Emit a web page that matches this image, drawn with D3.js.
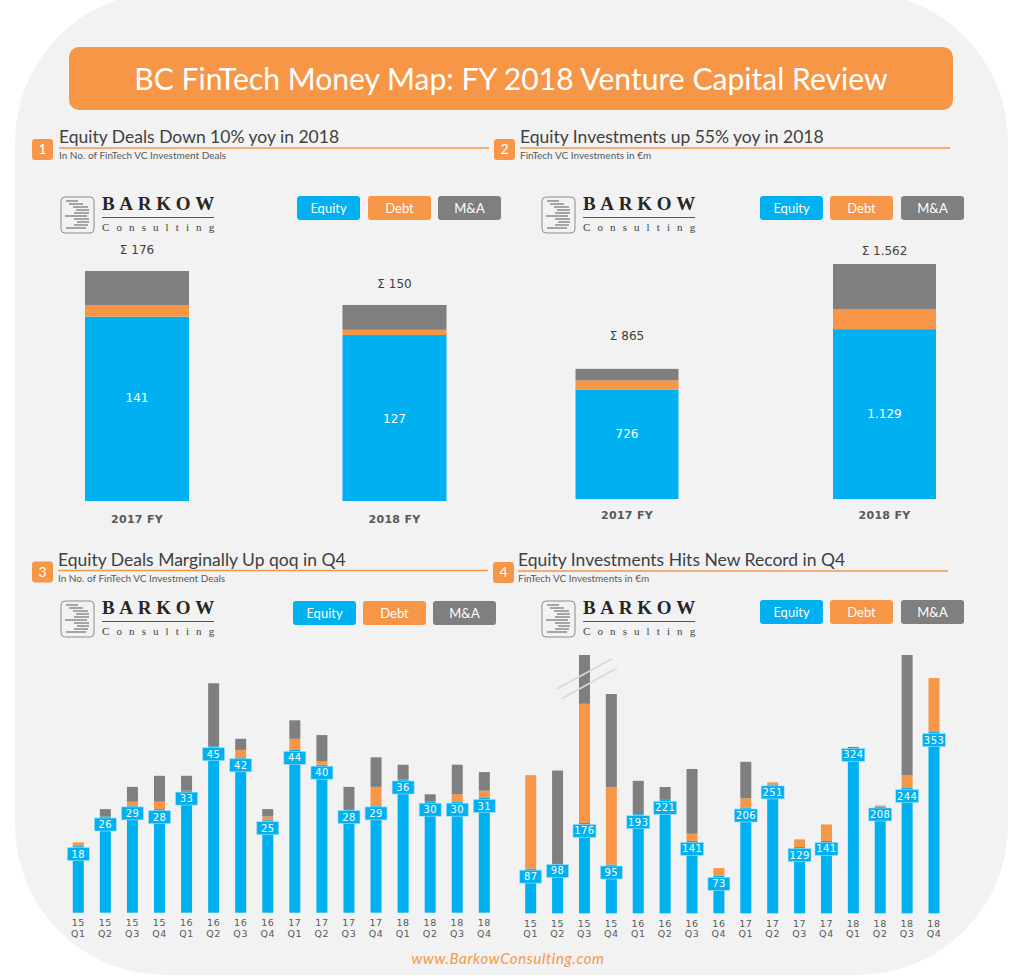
<!DOCTYPE html>
<html>
<head>
<meta charset="utf-8">
<script src="https://cdn.jsdelivr.net/npm/d3@7"></script>
<style>
  body { margin: 0; background: #fff; }
  svg { display: block; }
</style>
</head>
<body>
<svg width="1024" height="980"></svg>
<script>
// yearly charts
const years = ["2017 FY", "2018 FY"];
const dealsEquity = [141, 127];
const dealsDebt = [9, 4];
const dealsMA = [26, 19];
const investEquity = [726, 1129];
const investDebt = [62, 133];
const investMA = [77, 300];

// quarterly charts
const quarters = ["15 Q1", "15 Q2", "15 Q3", "15 Q4", "16 Q1", "16 Q2", "16 Q3", "16 Q4",
                  "17 Q1", "17 Q2", "17 Q3", "17 Q4", "18 Q1", "18 Q2", "18 Q3", "18 Q4"];
const qDealsEquity = [18, 26, 29, 28, 33, 45, 42, 25, 44, 40, 28, 29, 36, 30, 30, 31];
const qDealsDebt = [1, 0, 1, 2, 0, 0, 2, 1, 3, 1, 0, 5, 0, 0, 2, 2];
const qDealsMA = [0, 2, 4, 7, 4, 17, 3, 2, 5, 7, 6, 8, 4, 2, 8, 5];
const qInvestEquity = [87, 98, 176, 95, 193, 221, 141, 73, 206, 251, 129, 141, 324, 208, 244, 353];
const qInvestDebt = [182, 0, 232, 151, 0, 0, 14, 15, 18, 4, 15, 32, 0, 2, 25, 105];
const qInvestMA = [0, 180, 95, 181, 65, 25, 126, 0, 71, 0, 0, 0, 0, 0, 234, 0];

const seriesNames = ["Equity", "Debt", "M&A"];
const colors = { "Equity": "#00b0f0", "Debt": "#f79646", "M&A": "#7f7f7f" };
const mainFont = "Lato, Carlito, sans-serif";
const wideFont = "'DejaVu Sans', Verdana, sans-serif";
const euro = d3.formatLocale({ decimal: ",", thousands: ".", grouping: [3], currency: ["", "€"] }).format(",d");

let svg = d3.select("svg");

// grey card behind everything
svg.append("rect")
    .attr("x", 15).attr("y", -8)
    .attr("width", 993).attr("height", 983)
    .attr("rx", 150).attr("ry", 150)
    .attr("fill", "#f2f2f2");

// title bar
svg.append("rect")
    .attr("x", 69).attr("y", 47)
    .attr("width", 884).attr("height", 63)
    .attr("rx", 10)
    .attr("fill", colors["Debt"]);
svg.append("text")
    .attr("x", 511).attr("y", 90)
    .attr("text-anchor", "middle")
    .attr("font-family", mainFont)
    .attr("font-size", "30.1px")
    .attr("fill", "white")
    .text("BC FinTech Money Map: FY 2018 Venture Capital Review");

function sectionHeader(o) {
    let g = svg.append("g");
    g.append("rect")
        .attr("x", o.badgeX).attr("y", o.y - 9)
        .attr("width", 21).attr("height", 21)
        .attr("rx", 3)
        .attr("fill", colors["Debt"]);
    g.append("text")
        .attr("x", o.badgeX + 10.5).attr("y", o.y + 6)
        .attr("text-anchor", "middle")
        .attr("font-family", mainFont)
        .attr("font-size", "14px")
        .attr("fill", "white")
        .text(o.num);
    g.append("text")
        .attr("x", o.x).attr("y", o.y - 5)
        .attr("font-family", mainFont)
        .attr("font-size", "17.5px")
        .attr("fill", "#404040")
        .text(o.title);
    g.append("line")
        .attr("x1", o.x).attr("x2", o.x + 430)
        .attr("y1", o.y).attr("y2", o.y)
        .attr("stroke", colors["Debt"])
        .attr("stroke-width", 1.3);
    g.append("text")
        .attr("x", o.x).attr("y", o.y + 11)
        .attr("font-family", mainFont)
        .attr("font-size", "10px")
        .attr("fill", "#595959")
        .text(o.sub);
}

sectionHeader({ num: "1", badgeX: 32, x: 59, y: 148, title: "Equity Deals Down 10% yoy in 2018", sub: "In No. of FinTech VC Investment Deals" });
sectionHeader({ num: "2", badgeX: 494, x: 520, y: 148, title: "Equity Investments up 55% yoy in 2018", sub: "FinTech VC Investments in €m" });
sectionHeader({ num: "3", badgeX: 32, x: 58, y: 570.5, title: "Equity Deals Marginally Up qoq in Q4", sub: "In No. of FinTech VC Investment Deals" });
sectionHeader({ num: "4", badgeX: 493, x: 518, y: 571, title: "Equity Investments Hits New Record in Q4", sub: "FinTech VC Investments in €m" });

function logo(x, y) {
    let g = svg.append("g").attr("transform", `translate(${x}, ${y})`);
    g.append("rect")
        .attr("x", 1).attr("y", 1)
        .attr("width", 33).attr("height", 36)
        .attr("rx", 4)
        .attr("fill", "#f2f2f2")
        .attr("stroke", "#8c8c8c")
        .attr("stroke-width", 1);
    // stripes of the little "3" mark
    const stripes = [[6, 18, 5], [9, 23, 8], [13, 28, 11], [16, 29, 14], [14, 29, 17],
                     [5, 27, 20], [14, 29, 23], [17, 29, 26], [14, 28, 29], [6, 26, 32]];
    g.selectAll(".stripe")
        .data(stripes)
        .enter()
        .append("line")
        .attr("x1", d => d[0]).attr("x2", d => d[1])
        .attr("y1", d => d[2]).attr("y2", d => d[2])
        .attr("stroke", "#666")
        .attr("stroke-width", 1.1);
    g.append("text")
        .attr("x", 42).attr("y", 14)
        .attr("font-family", "'Liberation Serif', serif")
        .attr("font-weight", "bold")
        .attr("font-size", "19px")
        .attr("letter-spacing", "4.7px")
        .attr("fill", "#262626")
        .text("BARKOW");
    g.append("line")
        .attr("x1", 42).attr("x2", 154)
        .attr("y1", 21.5).attr("y2", 21.5)
        .attr("stroke", "#555")
        .attr("stroke-width", 1);
    g.append("text")
        .attr("x", 42).attr("y", 35)
        .attr("font-family", "'Liberation Serif', serif")
        .attr("font-size", "11px")
        .attr("letter-spacing", "7.1px")
        .attr("fill", "#404040")
        .text("Consulting");
}

function legend(xs, y) {
    let g = svg.append("g");
    let items = g.selectAll(".item")
        .data(seriesNames)
        .enter()
        .append("g")
        .attr("transform", (d, i) => `translate(${xs[i]}, ${y})`);
    items.append("rect")
        .attr("width", 63).attr("height", 24)
        .attr("rx", 3)
        .attr("fill", d => colors[d]);
    items.append("text")
        .attr("x", 31.5).attr("y", 17)
        .attr("text-anchor", "middle")
        .attr("font-family", mainFont)
        .attr("font-size", "13px")
        .attr("fill", "white")
        .text(d => d);
}

logo(60, 196);  legend([297, 368, 438], 196);
logo(541, 196); legend([760, 830, 901], 196);
logo(60, 600);  legend([293, 363, 433], 601);
logo(541, 600); legend([760, 830, 901], 600);

function makeRows(cats, equity, debt, ma) {
    return cats.map((c, i) => ({ cat: c, "Equity": equity[i], "Debt": debt[i], "M&A": ma[i] }));
}

// stacked bars, shared by all four charts
function stackedChart(rows, o) {
    let g = svg.append("g");
    let xScale = d3.scaleBand()
        .domain(rows.map(d => d.cat))
        .range(o.xRange)
        .paddingInner(o.padding)
        .paddingOuter(o.padding / 2);
    let yScale = d3.scaleLinear()
        .domain([0, o.yMax])
        .range(o.yRange);

    let stack = d3.stack().keys(seriesNames)(rows);

    g.selectAll(".layer")
        .data(stack)
        .enter()
        .append("g")
        .attr("fill", d => colors[d.key])
        .selectAll("rect")
        .data(d => d)
        .enter()
        .append("rect")
        .attr("x", d => xScale(d.data.cat))
        .attr("y", d => yScale(d[1]))
        .attr("width", xScale.bandwidth())
        .attr("height", d => yScale(d[0]) - yScale(d[1]));

    let axis = g.append("g")
        .attr("transform", `translate(0, ${o.yRange[0]})`)
        .call(d3.axisBottom(xScale).tickSize(0).tickPadding(o.tickPad));
    axis.select(".domain").remove();
    axis.selectAll("text")
        .attr("font-family", wideFont)
        .attr("font-size", o.tickSize)
        .attr("font-weight", o.tickWeight)
        .attr("letter-spacing", o.tickSpacing)
        .attr("fill", "#595959");

    return { g, xScale, yScale };
}

function yearChart(rows, o, fmt) {
    let c = stackedChart(rows, o);
    c.g.selectAll(".inner")
        .data(rows)
        .enter()
        .append("text")
        .attr("x", d => c.xScale(d.cat) + c.xScale.bandwidth() / 2)
        .attr("y", (d, i) => c.yScale(d["Equity"] / 2) + 4 + o.innerShift[i])
        .attr("text-anchor", "middle")
        .attr("font-family", wideFont)
        .attr("font-size", "12px")
        .attr("fill", "white")
        .text(d => fmt(d["Equity"]));
    c.g.selectAll(".sum")
        .data(rows)
        .enter()
        .append("text")
        .attr("x", d => c.xScale(d.cat) + c.xScale.bandwidth() / 2)
        .attr("y", (d, i) => c.yScale(d["Equity"] + d["Debt"] + d["M&A"]) - o.sumGap[i])
        .attr("text-anchor", "middle")
        .attr("font-family", wideFont)
        .attr("font-size", "12px")
        .attr("fill", "#404040")
        .text(d => "Σ " + fmt(d["Equity"] + d["Debt"] + d["M&A"]));
}

function quarterChart(rows, o) {
    let c = stackedChart(rows, o);

    // two line tick labels: year over quarter
    c.g.selectAll(".tick text").each(function(d) {
        let parts = d.split(" ");
        let t = d3.select(this).text(null);
        t.append("tspan").attr("x", 0).text(parts[0]);
        t.append("tspan").attr("x", 0).attr("dy", "1.1em").text(parts[1]);
    });

    let labels = c.g.selectAll(".lab")
        .data(rows)
        .enter()
        .append("g")
        .attr("transform", d => `translate(${c.xScale(d.cat) + c.xScale.bandwidth() / 2}, ${c.yScale(d["Equity"]) + 8})`);
    labels.append("rect")
        .attr("x", d => d["Equity"] > 99 ? -11.5 : -11)
        .attr("y", -6.5)
        .attr("width", d => d["Equity"] > 99 ? 23 : 22)
        .attr("height", 13)
        .attr("fill", colors["Equity"])
        .attr("stroke", "#a6e0f7")
        .attr("stroke-width", 0.6);
    labels.append("text")
        .attr("y", 3.5)
        .attr("text-anchor", "middle")
        .attr("font-family", wideFont)
        .attr("font-size", "10px")
        .attr("letter-spacing", "0.4px")
        .attr("fill", "white")
        .text(d => d["Equity"]);
}

yearChart(makeRows(years, dealsEquity, dealsDebt, dealsMA), {
    xRange: [8.25, 523.25], padding: 0.596, yMax: 176, yRange: [501, 271],
    tickPad: 14, tickSize: "11px", tickWeight: "bold", tickSpacing: "0.3px",
    innerShift: [-11, 1], sumGap: [17, 17]
}, d => d);

yearChart(makeRows(years, investEquity, investDebt, investMA), {
    xRange: [498.25, 1013.25], padding: 0.6, yMax: 1562, yRange: [499, 264],
    tickPad: 12, tickSize: "11px", tickWeight: "bold", tickSpacing: "0.3px",
    innerShift: [-10, 0], sumGap: [29, 9]
}, euro);

quarterChart(makeRows(quarters, qDealsEquity, qDealsDebt, qDealsMA), {
    xRange: [64.75, 497.85], padding: 0.594, yMax: 62, yRange: [912.7, 683.3],
    tickPad: 7, tickSize: "9.5px", tickWeight: "normal", tickSpacing: "0.6px"
});

quarterChart(makeRows(quarters, qInvestEquity, qInvestDebt, qInvestMA), {
    xRange: [517.25, 947.45], padding: 0.591, yMax: 503, yRange: [913.3, 655],
    tickPad: 7, tickSize: "9.5px", tickWeight: "normal", tickSpacing: "0.6px"
});

// axis break marks on the 15 Q3 bar
svg.append("line")
    .attr("x1", 556.7).attr("y1", 689).attr("x2", 611.7).attr("y2", 659)
    .attr("stroke", "#d9d9d9").attr("stroke-width", 1.6);
svg.append("line")
    .attr("x1", 561.7).attr("y1", 698.7).attr("x2", 616.7).attr("y2", 668.3)
    .attr("stroke", "#d9d9d9").attr("stroke-width", 1.6);

// footer
svg.append("text")
    .attr("x", 508).attr("y", 964)
    .attr("text-anchor", "middle")
    .attr("font-family", mainFont)
    .attr("font-style", "italic")
    .attr("font-size", "15px")
    .attr("letter-spacing", "0.6px")
    .attr("fill", colors["Debt"])
    .text("www.BarkowConsulting.com");
</script>
</body>
</html>
